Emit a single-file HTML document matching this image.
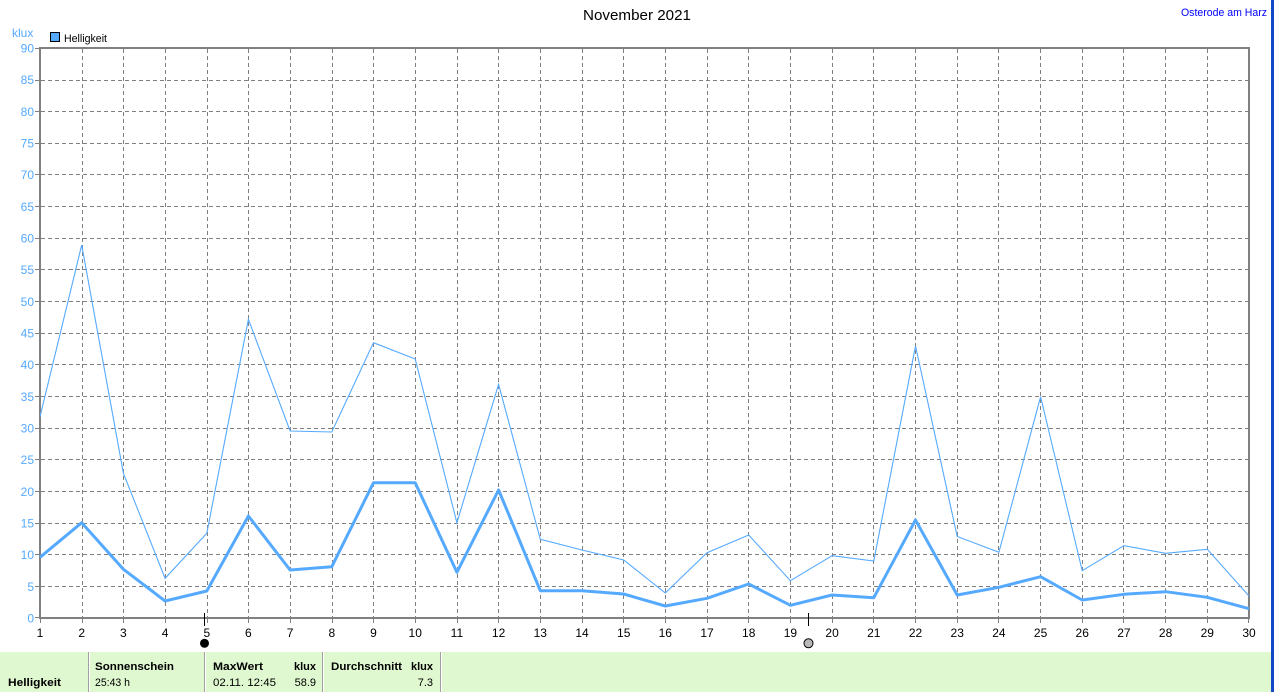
<!DOCTYPE html>
<html><head><meta charset="utf-8"><style>
html,body{margin:0;padding:0;background:#fff;width:1274px;height:692px;overflow:hidden}
svg{display:block}
text{font-family:"Liberation Sans",Arial,sans-serif}
</style></head><body>
<svg width="1274" height="692" viewBox="0 0 1274 692" xmlns="http://www.w3.org/2000/svg">
<rect x="0" y="0" width="1274" height="692" fill="#fff"/>
<!-- title -->
<text x="637" y="20" font-size="15" text-anchor="middle" fill="#000" textLength="108" lengthAdjust="spacingAndGlyphs">November 2021</text>
<text x="1181" y="16" font-size="11" fill="#0000ff" textLength="86" lengthAdjust="spacingAndGlyphs">Osterode am Harz</text>
<rect x="1271" y="0" width="3" height="692" fill="#1048c8"/>
<!-- klux + legend -->
<text x="12" y="37" font-size="12" fill="#55aaff">klux</text>
<rect x="50.5" y="32.5" width="9" height="9" fill="#55aaff" stroke="#000" stroke-width="1"/>
<text x="64" y="42" font-size="11" fill="#000" textLength="43" lengthAdjust="spacingAndGlyphs">Helligkeit</text>

<!-- grid -->
<g stroke="#808080" stroke-width="1" stroke-dasharray="4 3" shape-rendering="crispEdges" fill="none">
<path d="M41 586.5H1248M41 554.5H1248M41 523.5H1248M41 491.5H1248M41 459.5H1248M41 428.5H1248M41 396.5H1248M41 364.5H1248M41 333.5H1248M41 301.5H1248M41 269.5H1248M41 238.5H1248M41 206.5H1248M41 174.5H1248M41 143.5H1248M41 111.5H1248M41 80.5H1248"/>
<path d="M82.5 49V617M123.5 49V617M165.5 49V617M207.5 49V617M248.5 49V617M290.5 49V617M332.5 49V617M373.5 49V617M415.5 49V617M457.5 49V617M498.5 49V617M540.5 49V617M582.5 49V617M623.5 49V617M665.5 49V617M707.5 49V617M748.5 49V617M790.5 49V617M832.5 49V617M873.5 49V617M915.5 49V617M957.5 49V617M998.5 49V617M1040.5 49V617M1082.5 49V617M1123.5 49V617M1165.5 49V617M1207.5 49V617"/>
</g>
<!-- small ticks -->
<g stroke="#808080" stroke-width="1" shape-rendering="crispEdges">
<path d="M35 48.5H39M35 80.5H39M35 111.5H39M35 143.5H39M35 174.5H39M35 206.5H39M35 238.5H39M35 269.5H39M35 301.5H39M35 333.5H39M35 364.5H39M35 396.5H39M35 428.5H39M35 459.5H39M35 491.5H39M35 523.5H39M35 554.5H39M35 586.5H39M35 617.5H39"/>
<path d="M40.5 619V623M82.5 619V623M123.5 619V623M165.5 619V623M207.5 619V623M248.5 619V623M290.5 619V623M332.5 619V623M373.5 619V623M415.5 619V623M457.5 619V623M498.5 619V623M540.5 619V623M582.5 619V623M623.5 619V623M665.5 619V623M707.5 619V623M748.5 619V623M790.5 619V623M832.5 619V623M873.5 619V623M915.5 619V623M957.5 619V623M998.5 619V623M1040.5 619V623M1082.5 619V623M1123.5 619V623M1165.5 619V623M1207.5 619V623M1248.5 619V623"/>
</g>
<!-- axes / frame -->
<g fill="#808080" shape-rendering="crispEdges">
<rect x="39" y="47" width="2" height="572"/>
<rect x="39" y="47" width="1211" height="2"/>
<rect x="1248" y="47" width="2" height="572"/>
<rect x="39" y="617" width="1211" height="2"/>
</g>

<!-- y labels -->
<g font-size="12" fill="#55aaff" text-anchor="end">
<text x="34" y="52.5">90</text>
<text x="34" y="84.2">85</text>
<text x="34" y="115.8">80</text>
<text x="34" y="147.5">75</text>
<text x="34" y="179.2">70</text>
<text x="34" y="210.8">65</text>
<text x="34" y="242.5">60</text>
<text x="34" y="274.2">55</text>
<text x="34" y="305.8">50</text>
<text x="34" y="337.5">45</text>
<text x="34" y="369.2">40</text>
<text x="34" y="400.8">35</text>
<text x="34" y="432.5">30</text>
<text x="34" y="464.2">25</text>
<text x="34" y="495.8">20</text>
<text x="34" y="527.5">15</text>
<text x="34" y="559.2">10</text>
<text x="34" y="590.8">5</text>
<text x="34" y="622.5">0</text>
</g>
<!-- x labels -->
<g font-size="12" fill="#000" text-anchor="middle">
<text x="40" y="637">1</text>
<text x="81.7" y="637">2</text>
<text x="123.4" y="637">3</text>
<text x="165.1" y="637">4</text>
<text x="206.8" y="637">5</text>
<text x="248.4" y="637">6</text>
<text x="290.1" y="637">7</text>
<text x="331.8" y="637">8</text>
<text x="373.5" y="637">9</text>
<text x="415.2" y="637">10</text>
<text x="456.9" y="637">11</text>
<text x="498.6" y="637">12</text>
<text x="540.3" y="637">13</text>
<text x="582" y="637">14</text>
<text x="623.7" y="637">15</text>
<text x="665.3" y="637">16</text>
<text x="707" y="637">17</text>
<text x="748.7" y="637">18</text>
<text x="790.4" y="637">19</text>
<text x="832.1" y="637">20</text>
<text x="873.8" y="637">21</text>
<text x="915.5" y="637">22</text>
<text x="957.2" y="637">23</text>
<text x="998.9" y="637">24</text>
<text x="1040.6" y="637">25</text>
<text x="1082.2" y="637">26</text>
<text x="1123.9" y="637">27</text>
<text x="1165.6" y="637">28</text>
<text x="1207.3" y="637">29</text>
<text x="1249" y="637">30</text>
</g>

<!-- series -->
<polyline fill="none" stroke="#55aaff" stroke-width="1.1" stroke-linejoin="miter" points="40,416.7 81.7,245 123.4,473.3 165.1,578.3 206.8,533.3 248.4,319.3 290.1,431 331.8,432 373.5,342.7 415.2,359 456.9,522.7 498.6,384.3 540.3,539.3 582,550 623.7,560 665.3,593 707,552.7 748.7,535 790.4,580.7 832.1,555.7 873.8,561 915.5,346 957.2,536.5 998.9,552.3 1040.6,396.7 1082.2,570.7 1123.9,545.7 1165.6,553.3 1207.3,549.3 1249,596"/>
<polyline fill="none" stroke="#55aaff" stroke-width="3" stroke-linejoin="round" points="40,557.3 81.7,522.7 123.4,569.3 165.1,601 206.8,591 248.4,516 290.1,570 331.8,566.7 373.5,482.7 415.2,482.7 456.9,572.3 498.6,490 540.3,590.7 582,590.7 623.7,594 665.3,606 707,598.3 748.7,584 790.4,605.3 832.1,595 873.8,597.7 915.5,520 957.2,595 998.9,587.3 1040.6,576.7 1082.2,600 1123.9,594.3 1165.6,591.7 1207.3,597.3 1249,608.7"/>

<!-- moon markers -->
<g stroke="#000" stroke-width="1" shape-rendering="crispEdges">
<path d="M204.5 613V626M808.5 613V626"/>
</g>
<circle cx="204.5" cy="643.3" r="4.5" fill="#000"/>
<circle cx="808.5" cy="643.3" r="4.5" fill="#b8b8b8" stroke="#000" stroke-width="1"/>

<!-- footer -->
<rect x="0" y="652" width="1271" height="40" fill="#e0f8d0"/>
<g shape-rendering="crispEdges">
<rect x="88" y="652" width="1" height="40" fill="#a0a0a0"/><rect x="89" y="652" width="1" height="40" fill="#fff"/>
<rect x="204" y="652" width="1" height="40" fill="#a0a0a0"/><rect x="205" y="652" width="1" height="40" fill="#fff"/>
<rect x="322" y="652" width="1" height="40" fill="#a0a0a0"/><rect x="323" y="652" width="1" height="40" fill="#fff"/>
<rect x="440" y="652" width="1" height="40" fill="#a0a0a0"/><rect x="441" y="652" width="1" height="40" fill="#fff"/>
</g>
<g font-size="11" fill="#000">
<text x="8" y="686" font-weight="bold" textLength="53" lengthAdjust="spacingAndGlyphs">Helligkeit</text>
<text x="95" y="670" font-weight="bold" textLength="79" lengthAdjust="spacingAndGlyphs">Sonnenschein</text>
<text x="95" y="686" textLength="35" lengthAdjust="spacingAndGlyphs">25:43 h</text>
<text x="213" y="670" font-weight="bold" textLength="50" lengthAdjust="spacingAndGlyphs">MaxWert</text>
<text x="316" y="670" font-weight="bold" text-anchor="end">klux</text>
<text x="213" y="686" textLength="63" lengthAdjust="spacingAndGlyphs">02.11.  12:45</text>
<text x="316" y="686" text-anchor="end">58.9</text>
<text x="331" y="670" font-weight="bold" textLength="71" lengthAdjust="spacingAndGlyphs">Durchschnitt</text>
<text x="433" y="670" font-weight="bold" text-anchor="end">klux</text>
<text x="433" y="686" text-anchor="end">7.3</text>
</g>
</svg>
</body></html>
